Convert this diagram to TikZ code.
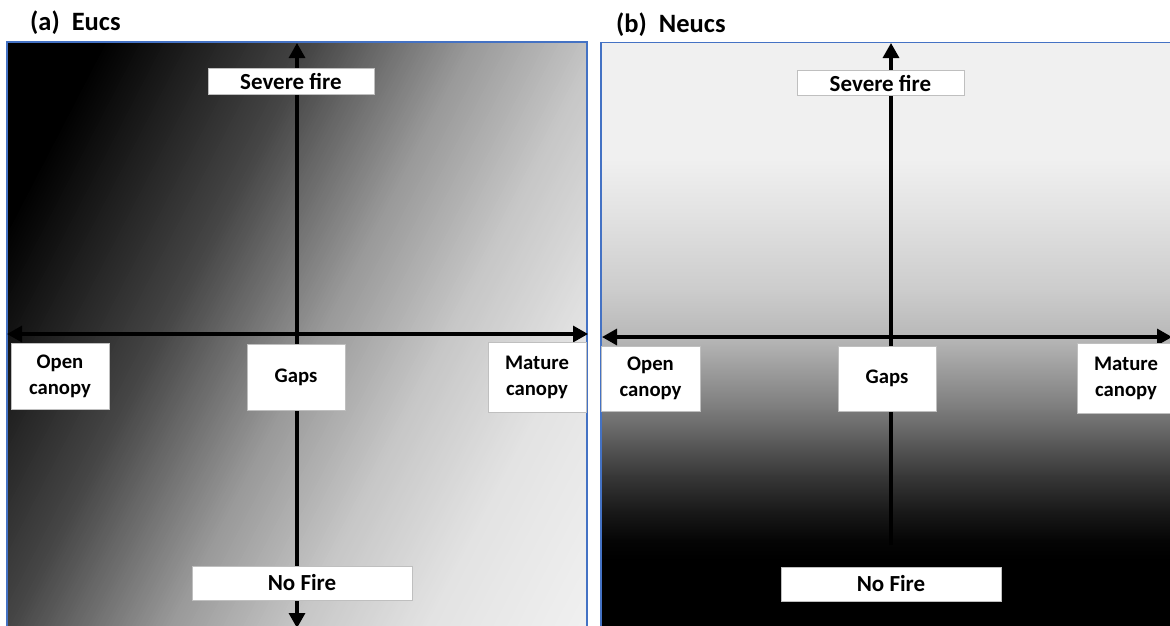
\documentclass[tikz,border=0pt]{standalone}
\usepackage{fontspec}
\setmainfont{Carlito}
\usetikzlibrary{arrows.meta}
\definecolor{panelblue}{HTML}{4472C4}
\definecolor{boxgray}{HTML}{BFBFBF}
\begin{document}
\begin{tikzpicture}[x=1pt,y=-1pt,
  lbl/.style={draw=boxgray, fill=white, line width=0.9pt, inner sep=0pt, align=center, text=black,
              font=\bfseries\fontsize{20.7}{26}\selectfont},
  big/.style={lbl, font=\bfseries\fontsize{23}{27}\selectfont},
  ttl/.style={anchor=base west, inner sep=0pt, text=black, font=\bfseries\fontsize{26.5}{30}\selectfont},
  ax/.style={line width=3.2pt, {Triangle[width=16pt,length=15pt]}-{Triangle[width=16pt,length=15pt]}},
  axup/.style={line width=3.2pt, -{Triangle[width=16pt,length=15pt]}},
  frame/.style={draw=panelblue, line width=1.2pt}]
\useasboundingbox (0,0) rectangle (1170,625);
\fill[white] (0,0) rectangle (1170,625);

% ---------- panel (a) background: diagonal gradient ----------
\begin{scope}
  \clip (7,42) rectangle (587,640);
  \begin{scope}[rotate=-27.4]
    \foreach \s in {0,3,...,840} {
      \pgfmathsetmacro\g{(\s<110) ? 0 : ((\s<294) ? 0.27*(\s-110)/184 : ((\s<437) ? 0.27+0.33*(\s-294)/143 : ((\s<552) ? 0.6+0.18*(\s-437)/115 : ((\s<667) ? 0.78+0.11*(\s-552)/115 : min(0.95,0.89+0.06*(\s-667)/161)))))}
      \pgfmathsetmacro\p{100*\g}
      \fill[white!\p!black] (\s,-1000) rectangle (\s+4,1000);
    }
  \end{scope}
\end{scope}

% ---------- panel (b) background: vertical gradient ----------
\fill[white!94!black] (601,42) rectangle (1175,161);
\shade[top color=white!94!black, bottom color=white!88!black] (601,160) rectangle (1175,221);
\shade[top color=white!88!black, bottom color=white!80!black] (601,220) rectangle (1175,291);
\shade[top color=white!80!black, bottom color=white!72!black] (601,290) rectangle (1175,338);
\shade[top color=white!72!black, bottom color=white!48!black] (601,337) rectangle (1175,411);
\shade[top color=white!48!black, bottom color=white!36!black] (601,410) rectangle (1175,441);
\shade[top color=white!36!black, bottom color=white!22!black] (601,440) rectangle (1175,476);
\shade[top color=white!22!black, bottom color=white!10!black] (601,475) rectangle (1175,511);
\shade[top color=white!10!black, bottom color=white!2!black] (601,510) rectangle (1175,541);
\shade[top color=white!2!black, bottom color=black] (601,540) rectangle (1175,561);
\fill[black] (601,560) rectangle (1175,640);

% ---------- panel frames ----------
\draw[frame] (7,640) -- (7,42) -- (587,42) -- (587,640);
\draw[frame] (601,640) -- (601,42.5) -- (1180,42.5);

% ---------- titles ----------
\node[ttl] (tA) at (30,30) {(a)~ Eucs};
\node[ttl] (tB) at (616,32) {(b)~ Neucs};

% ---------- axes ----------
\coordinate (aT) at (297,43);
\coordinate (aB) at (297,628);
\coordinate (aL) at (7,334);
\coordinate (aR) at (588,334);
\coordinate (bT) at (891,43);
\coordinate (bB) at (891,545);
\coordinate (bL) at (602,337);
\coordinate (bR) at (1172,337);
\draw[ax] (aL) -- (aR);
\draw[ax] (aB) -- (aT);
\draw[ax] (bL) -- (bR);
\draw[axup] (bB) -- (bT);

% ---------- labels panel (a) ----------
\node[big, minimum width=166pt, minimum height=26pt] (sfA) at (291,81) {Severe fire};
\node[lbl, minimum width=98pt, minimum height=66pt] (ocA) at (60,376) {Open\\canopy};
\node[lbl, minimum width=98pt, minimum height=66pt] (gpA) at (296,377) {Gaps};
\node[lbl, minimum width=98pt, minimum height=70pt] (mcA) at (537,377) {Mature\\canopy};
\node[big, minimum width=220pt, minimum height=34pt] (nfA) at (302,583) {No Fire};

% ---------- labels panel (b) ----------
\node[big, minimum width=167pt, minimum height=25pt] (sfB) at (880.5,83) {Severe fire};
\node[lbl, minimum width=99pt, minimum height=65pt] (ocB) at (650.5,378.5) {Open\\canopy};
\node[lbl, minimum width=98pt, minimum height=65pt] (gpB) at (887,378.5) {Gaps};
\node[lbl, minimum width=98pt, minimum height=70pt] (mcB) at (1126,378) {Mature\\canopy};
\node[big, minimum width=220pt, minimum height=34pt] (nfB) at (891,584) {No Fire};
\end{tikzpicture}
\end{document}
